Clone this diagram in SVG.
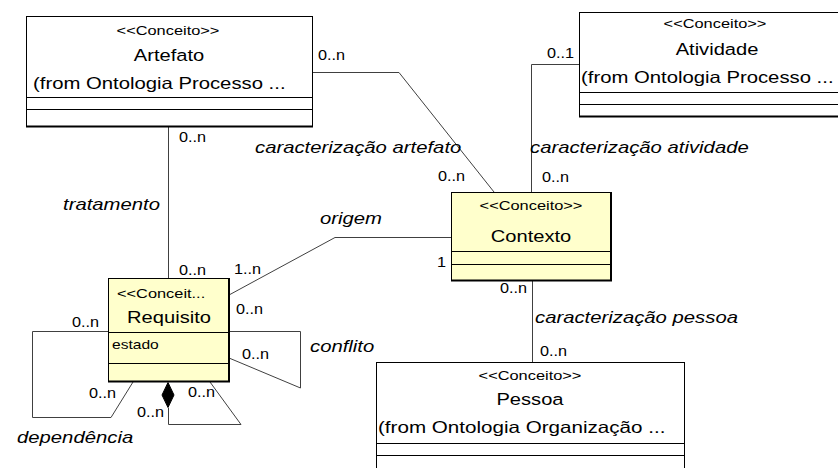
<svg xmlns="http://www.w3.org/2000/svg" width="838" height="468" viewBox="0 0 838 468">
<style>
.box{stroke:#000;stroke-width:1}
.yel{fill:#FFFFCC}
.wht{fill:#FFFFFF}
.sep{stroke:#000;stroke-width:1}
.bot{stroke:#000;stroke-width:2}
.conn{fill:none;stroke:#404040;stroke-width:1}
.dia{fill:#000;stroke:#000;stroke-width:1}
text{font-family:"Liberation Sans",Arial,sans-serif;fill:#000}
.st{font-size:13px}
.nm{font-size:16.5px}
.lb{font-size:14px}
.it{font-size:16.5px;font-style:italic}
.mid{text-anchor:middle}
</style>
<rect x="0" y="0" width="838" height="468" fill="#fff"/>
<g id="connectors">
<path class="conn" d="M168.5 127 V278"/>
<path class="conn" d="M312 72.5 H399 L494 192"/>
<path class="conn" d="M579 64.5 H531.5 V192"/>
<path class="conn" d="M532.5 281 V362"/>
<path class="conn" d="M451 237.5 H335 L229 295"/>
<path class="conn" d="M229 331.5 H300.5 V388 L229 358"/>
<path class="conn" d="M108 331.5 H32.5 V417.5 H111 L133 382"/>
<path class="conn" d="M168.5 408 V424.5 H241 L210 382"/>
<polygon class="dia" points="168,382.5 174,395 168,407.5 162,395"/>
</g>
<g id="labels">
<text class="lb" transform="translate(318,60) scale(1.16,1)">0..n</text>
<text class="lb" transform="translate(547,58) scale(1.16,1)">0..1</text>
<text class="lb" transform="translate(179,142) scale(1.16,1)">0..n</text>
<text class="it" transform="translate(255,153) scale(1.23,1)">caracterização artefato</text>
<text class="it" transform="translate(530,153) scale(1.23,1)">caracterização atividade</text>
<text class="lb" transform="translate(438,181) scale(1.16,1)">0..n</text>
<text class="lb" transform="translate(542,182) scale(1.16,1)">0..n</text>
<text class="it" transform="translate(63,210) scale(1.23,1)">tratamento</text>
<text class="it" transform="translate(320,224) scale(1.23,1)">origem</text>
<text class="lb" transform="translate(179,275) scale(1.16,1)">0..n</text>
<text class="lb" transform="translate(234,274) scale(1.16,1)">1..n</text>
<text class="lb" transform="translate(437,267) scale(1.16,1)">1</text>
<text class="lb" transform="translate(500,293) scale(1.16,1)">0..n</text>
<text class="it" transform="translate(535,323) scale(1.23,1)">caracterização pessoa</text>
<text class="lb" transform="translate(540,356) scale(1.16,1)">0..n</text>
<text class="lb" transform="translate(236,314) scale(1.16,1)">0..n</text>
<text class="lb" transform="translate(242,359) scale(1.16,1)">0..n</text>
<text class="it" transform="translate(310,352) scale(1.23,1)">conflito</text>
<text class="lb" transform="translate(72,327) scale(1.16,1)">0..n</text>
<text class="lb" transform="translate(89,398) scale(1.16,1)">0..n</text>
<text class="lb" transform="translate(137,417) scale(1.16,1)">0..n</text>
<text class="lb" transform="translate(188,397) scale(1.16,1)">0..n</text>
<text class="it" transform="translate(17,443) scale(1.23,1)">dependência</text>
</g>
<g id="node-artefato">
<rect class="box wht" x="26.5" y="16.5" width="286" height="110"/>
<line class="sep" x1="26.5" y1="97.5" x2="312.5" y2="97.5"/>
<line class="sep" x1="26.5" y1="109.5" x2="312.5" y2="109.5"/>
<line class="bot" x1="26" y1="126.5" x2="313" y2="126.5"/>
<text class="st mid" transform="translate(168,35) scale(1.26,1)">&lt;&lt;Conceito&gt;&gt;</text>
<text class="nm mid" transform="translate(169,61) scale(1.22,1)">Artefato</text>
<text class="nm" transform="translate(33,89) scale(1.23,1)">(from Ontologia Processo ...</text>
</g>
<g id="node-atividade">
<rect class="box wht" x="579.5" y="12.5" width="280" height="104"/>
<line class="sep" x1="579.5" y1="92.5" x2="860" y2="92.5"/>
<line class="sep" x1="579.5" y1="104.5" x2="860" y2="104.5"/>
<line class="bot" x1="579" y1="116.5" x2="860" y2="116.5"/>
<text class="st mid" transform="translate(715,28) scale(1.26,1)">&lt;&lt;Conceito&gt;&gt;</text>
<text class="nm mid" transform="translate(717,55) scale(1.22,1)">Atividade</text>
<text class="nm" transform="translate(581,83) scale(1.23,1)">(from Ontologia Processo ...</text>
</g>
<g id="node-contexto">
<rect class="box yel" x="451.5" y="192.5" width="159" height="88"/>
<line class="sep" x1="451.5" y1="251.5" x2="610.5" y2="251.5"/>
<line class="sep" x1="451.5" y1="264.5" x2="610.5" y2="264.5"/>
<line class="bot" x1="451" y1="280.5" x2="612" y2="280.5"/>
<line class="bot" x1="611" y1="192" x2="611" y2="281"/>
<text class="st mid" transform="translate(531,210) scale(1.26,1)">&lt;&lt;Conceito&gt;&gt;</text>
<text class="nm mid" transform="translate(531,242) scale(1.22,1)">Contexto</text>
</g>
<g id="node-requisito">
<rect class="box yel" x="108.5" y="278.5" width="120" height="103"/>
<line class="sep" x1="108.5" y1="332.5" x2="228.5" y2="332.5"/>
<line class="sep" x1="108.5" y1="363.5" x2="228.5" y2="363.5"/>
<line class="bot" x1="108" y1="381.5" x2="230" y2="381.5"/>
<line class="bot" x1="229" y1="278" x2="229" y2="382"/>
<text class="st" transform="translate(117,298) scale(1.26,1)">&lt;&lt;Conceit...</text>
<text class="nm mid" transform="translate(169,323) scale(1.22,1)">Requisito</text>
<text class="st" transform="translate(112,349) scale(1.2,1)">estado</text>
</g>
<g id="node-pessoa">
<rect class="box wht" x="376.5" y="362.5" width="308" height="120"/>
<line class="sep" x1="376.5" y1="443.5" x2="684.5" y2="443.5"/>
<line class="sep" x1="376.5" y1="455.5" x2="684.5" y2="455.5"/>
<text class="st mid" transform="translate(530,380) scale(1.26,1)">&lt;&lt;Conceito&gt;&gt;</text>
<text class="nm mid" transform="translate(530,405) scale(1.22,1)">Pessoa</text>
<text class="nm" transform="translate(378,433) scale(1.25,1)">(from Ontologia Organização ...</text>
</g>
</svg>
